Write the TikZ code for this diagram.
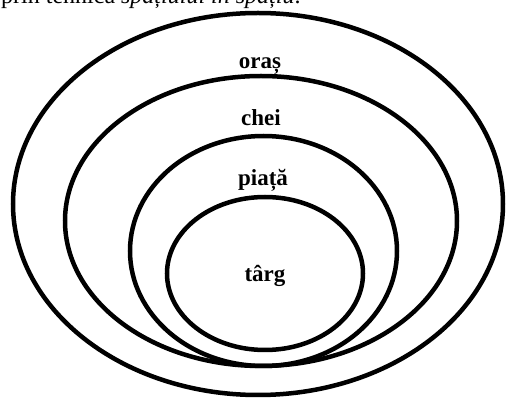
\documentclass[tikz,border=0pt]{standalone}
\usepackage{fontspec}
\setmainfont{Liberation Serif}
\tikzset{ring/.style={line width=4.5pt},
  lbl/.style={font=\fontsize{23}{25}\selectfont\bfseries,inner sep=0pt,anchor=base}}
\begin{document}
\begin{tikzpicture}[x=1pt,y=-1pt]
\useasboundingbox (0,0) rectangle (507,398);
\begin{scope}
\clip (0,0) rectangle (507,398);
\node[anchor=base west,inner sep=0pt,font=\fontsize{24}{26}\selectfont] (intro) at (1,3.5) {prin tehnica \textit{spațiului în spațiu}.};
\end{scope}
% nested rings
\draw[ring] (258,204) ellipse (245 and 191);
\draw[ring] (261,221) ellipse (196 and 145);
\draw[ring] (263.5,251) ellipse (133.5 and 115);
\draw[ring] (265,273.5) ellipse (98 and 76.5);
\node[lbl] (oras) at (260,69) {oraș};
\node[lbl] (chei) at (261,126) {chei};
\node[lbl] (piata) at (263,186) {piață};
\node[lbl] (targ) at (265,282) {târg};
\end{tikzpicture}
\end{document}
